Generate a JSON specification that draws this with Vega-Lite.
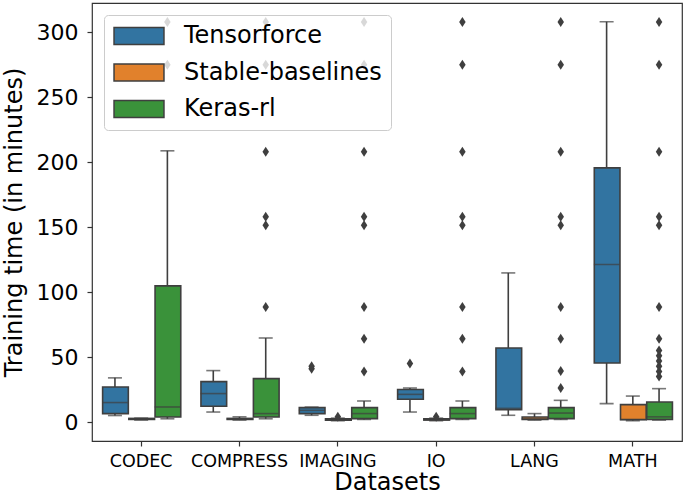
{
  "$schema": "https://vega.github.io/schema/vega-lite/v6.json",
  "width": 590,
  "height": 438,
  "autosize": "none",
  "padding": {"left": 92, "top": 3, "right": 3, "bottom": 56},
  "config": {
    "font": "DejaVu Sans",
    "view": {"stroke": "#333333", "strokeWidth": 1.2},
    "axis": {"grid": false, "domain": false, "tickColor": "#333333", "tickWidth": 1.2, "labelColor": "#000000", "titleColor": "#000000", "titleFontWeight": "normal", "titleFont": "DejaVu Sans", "labelFont": "DejaVu Sans"}
  },
  "datasets": {
    "boxes": [
      {"dataset": "CODEC", "lib": "Tensorforce", "lo": 5, "q1": 6.5, "med": 15, "q3": 27, "hi": 34},
      {"dataset": "CODEC", "lib": "Stable-baselines", "lo": 1.5, "q1": 2, "med": 2.3, "q3": 2.8, "hi": 3},
      {"dataset": "CODEC", "lib": "Keras-rl", "lo": 2.5, "q1": 3.9, "med": 11.6, "q3": 104.8, "hi": 208.8},
      {"dataset": "COMPRESS", "lib": "Tensorforce", "lo": 7.7, "q1": 12.1, "med": 21.9, "q3": 31.1, "hi": 39.6},
      {"dataset": "COMPRESS", "lib": "Stable-baselines", "lo": 1.5, "q1": 2, "med": 2.3, "q3": 2.8, "hi": 4},
      {"dataset": "COMPRESS", "lib": "Keras-rl", "lo": 2.5, "q1": 3.9, "med": 6.5, "q3": 33.4, "hi": 64.7},
      {"dataset": "IMAGING", "lib": "Tensorforce", "lo": 5.2, "q1": 6.5, "med": 9, "q3": 11.1, "hi": 11.5},
      {"dataset": "IMAGING", "lib": "Stable-baselines", "lo": 1, "q1": 1.5, "med": 2, "q3": 2.5, "hi": 3},
      {"dataset": "IMAGING", "lib": "Keras-rl", "lo": 2, "q1": 2.6, "med": 6.5, "q3": 11.1, "hi": 16.2},
      {"dataset": "IO", "lib": "Tensorforce", "lo": 7.7, "q1": 17.5, "med": 21.3, "q3": 25, "hi": 26.2},
      {"dataset": "IO", "lib": "Stable-baselines", "lo": 1, "q1": 1.5, "med": 2, "q3": 2.5, "hi": 3},
      {"dataset": "IO", "lib": "Keras-rl", "lo": 2, "q1": 2.6, "med": 6.5, "q3": 11.1, "hi": 16.2},
      {"dataset": "LANG", "lib": "Tensorforce", "lo": 5.2, "q1": 9.5, "med": 10.5, "q3": 57, "hi": 114.8},
      {"dataset": "LANG", "lib": "Stable-baselines", "lo": 1.5, "q1": 2, "med": 2.5, "q3": 3.9, "hi": 6.5},
      {"dataset": "LANG", "lib": "Keras-rl", "lo": 2, "q1": 2.6, "med": 6.9, "q3": 11.1, "hi": 16.7},
      {"dataset": "MATH", "lib": "Tensorforce", "lo": 14.2, "q1": 45.5, "med": 121.3, "q3": 195.7, "hi": 308.2},
      {"dataset": "MATH", "lib": "Stable-baselines", "lo": 1, "q1": 1.8, "med": 2, "q3": 13.4, "hi": 20},
      {"dataset": "MATH", "lib": "Keras-rl", "lo": 1.5, "q1": 2, "med": 4, "q3": 15.4, "hi": 25.7}
    ],
    "outliers": [
      {"dataset": "CODEC", "lib": "Keras-rl", "value": 275},
      {"dataset": "CODEC", "lib": "Keras-rl", "value": 308},
      {"dataset": "COMPRESS", "lib": "Keras-rl", "value": 88.6},
      {"dataset": "COMPRESS", "lib": "Keras-rl", "value": 151.5},
      {"dataset": "COMPRESS", "lib": "Keras-rl", "value": 158},
      {"dataset": "COMPRESS", "lib": "Keras-rl", "value": 208},
      {"dataset": "COMPRESS", "lib": "Keras-rl", "value": 275},
      {"dataset": "COMPRESS", "lib": "Keras-rl", "value": 308},
      {"dataset": "IMAGING", "lib": "Tensorforce", "value": 41},
      {"dataset": "IMAGING", "lib": "Tensorforce", "value": 43},
      {"dataset": "IMAGING", "lib": "Stable-baselines", "value": 4},
      {"dataset": "IMAGING", "lib": "Keras-rl", "value": 39},
      {"dataset": "IMAGING", "lib": "Keras-rl", "value": 64.2},
      {"dataset": "IMAGING", "lib": "Keras-rl", "value": 88.6},
      {"dataset": "IMAGING", "lib": "Keras-rl", "value": 151.5},
      {"dataset": "IMAGING", "lib": "Keras-rl", "value": 158},
      {"dataset": "IMAGING", "lib": "Keras-rl", "value": 208},
      {"dataset": "IMAGING", "lib": "Keras-rl", "value": 275},
      {"dataset": "IMAGING", "lib": "Keras-rl", "value": 308},
      {"dataset": "IO", "lib": "Tensorforce", "value": 45},
      {"dataset": "IO", "lib": "Stable-baselines", "value": 4},
      {"dataset": "IO", "lib": "Keras-rl", "value": 39},
      {"dataset": "IO", "lib": "Keras-rl", "value": 64.2},
      {"dataset": "IO", "lib": "Keras-rl", "value": 88.6},
      {"dataset": "IO", "lib": "Keras-rl", "value": 151.5},
      {"dataset": "IO", "lib": "Keras-rl", "value": 158},
      {"dataset": "IO", "lib": "Keras-rl", "value": 208},
      {"dataset": "IO", "lib": "Keras-rl", "value": 275},
      {"dataset": "IO", "lib": "Keras-rl", "value": 308},
      {"dataset": "LANG", "lib": "Keras-rl", "value": 26.2},
      {"dataset": "LANG", "lib": "Keras-rl", "value": 39.3},
      {"dataset": "LANG", "lib": "Keras-rl", "value": 64.2},
      {"dataset": "LANG", "lib": "Keras-rl", "value": 88.6},
      {"dataset": "LANG", "lib": "Keras-rl", "value": 151.5},
      {"dataset": "LANG", "lib": "Keras-rl", "value": 158},
      {"dataset": "LANG", "lib": "Keras-rl", "value": 208},
      {"dataset": "LANG", "lib": "Keras-rl", "value": 275},
      {"dataset": "LANG", "lib": "Keras-rl", "value": 308},
      {"dataset": "MATH", "lib": "Keras-rl", "value": 35},
      {"dataset": "MATH", "lib": "Keras-rl", "value": 39},
      {"dataset": "MATH", "lib": "Keras-rl", "value": 43},
      {"dataset": "MATH", "lib": "Keras-rl", "value": 47},
      {"dataset": "MATH", "lib": "Keras-rl", "value": 51},
      {"dataset": "MATH", "lib": "Keras-rl", "value": 55},
      {"dataset": "MATH", "lib": "Keras-rl", "value": 64.2},
      {"dataset": "MATH", "lib": "Keras-rl", "value": 88.6},
      {"dataset": "MATH", "lib": "Keras-rl", "value": 151.5},
      {"dataset": "MATH", "lib": "Keras-rl", "value": 158},
      {"dataset": "MATH", "lib": "Keras-rl", "value": 208},
      {"dataset": "MATH", "lib": "Keras-rl", "value": 275},
      {"dataset": "MATH", "lib": "Keras-rl", "value": 308}
    ]
  },
  "layer": [
    {
      "data": {"name": "boxes"},
      "mark": {"type": "rule", "color": "#3f3f3f", "strokeWidth": 1.6},
      "encoding": {
        "x": {"field": "dataset", "type": "nominal", "sort": ["CODEC", "COMPRESS", "IMAGING", "IO", "LANG", "MATH"],
              "scale": {"paddingInner": 0.2, "paddingOuter": 0.1},
              "axis": {"title": "Datasets", "labelAngle": 0, "labelFontSize": 17.5, "titleFontSize": 24, "tickSize": 5, "labelPadding": 6, "titlePadding": 1, "labelOverlap": false}},
        "xOffset": {"field": "lib", "type": "nominal", "scale": {"domain": ["Tensorforce", "Stable-baselines", "Keras-rl"], "paddingInner": 0, "paddingOuter": 0}},
        "y": {"field": "lo", "type": "quantitative",
              "scale": {"domain": [-14.6, 322.6], "nice": false, "zero": false},
              "axis": {"title": "Training time (in minutes)", "values": [0, 50, 100, 150, 200, 250, 300], "labelFontSize": 22, "titleFontSize": 24, "tickSize": 5, "labelPadding": 9, "titlePadding": 10}},
        "y2": {"field": "hi"}
      }
    },
    {
      "data": {"name": "boxes"},
      "mark": {"type": "bar", "stroke": "#3f3f3f", "strokeWidth": 1.6, "width": {"band": 0.98}},
      "encoding": {
        "x": {"field": "dataset", "type": "nominal", "sort": ["CODEC", "COMPRESS", "IMAGING", "IO", "LANG", "MATH"]},
        "xOffset": {"field": "lib", "type": "nominal"},
        "y": {"field": "q1", "type": "quantitative"},
        "y2": {"field": "q3"},
        "color": {"field": "lib", "type": "nominal",
                  "scale": {"domain": ["Tensorforce", "Stable-baselines", "Keras-rl"], "range": ["#3274a1", "#e1812c", "#3a923a"]},
                  "legend": {"title": null, "orient": "none", "legendX": 12, "legendY": 12,
                             "symbolType": "M-2.27,-0.77H2.27V0.77H-2.27Z", "symbolSize": 484,
                             "symbolStrokeColor": "#3f3f3f", "symbolStrokeWidth": 1.5, "symbolOpacity": 1,
                             "labelFontSize": 24, "labelFont": "DejaVu Sans", "labelColor": "#000000", "labelLimit": 400,
                             "padding": 9, "rowPadding": 12.5, "symbolOffset": 14, "labelOffset": 33,
                             "strokeColor": "#cccccc", "fillColor": "rgba(255,255,255,0.8)", "cornerRadius": 4}}
      }
    },
    {
      "data": {"name": "boxes"},
      "mark": {"type": "tick", "color": "#3f3f3f", "thickness": 1.6, "size": 25.5},
      "encoding": {
        "x": {"field": "dataset", "type": "nominal", "sort": ["CODEC", "COMPRESS", "IMAGING", "IO", "LANG", "MATH"]},
        "xOffset": {"field": "lib", "type": "nominal"},
        "y": {"field": "med", "type": "quantitative"}
      }
    },
    {
      "data": {"name": "boxes"},
      "mark": {"type": "tick", "color": "#3f3f3f", "thickness": 1.6, "size": 14},
      "encoding": {
        "x": {"field": "dataset", "type": "nominal", "sort": ["CODEC", "COMPRESS", "IMAGING", "IO", "LANG", "MATH"]},
        "xOffset": {"field": "lib", "type": "nominal"},
        "y": {"field": "hi", "type": "quantitative"}
      }
    },
    {
      "data": {"name": "boxes"},
      "mark": {"type": "tick", "color": "#3f3f3f", "thickness": 1.6, "size": 14},
      "encoding": {
        "x": {"field": "dataset", "type": "nominal", "sort": ["CODEC", "COMPRESS", "IMAGING", "IO", "LANG", "MATH"]},
        "xOffset": {"field": "lib", "type": "nominal"},
        "y": {"field": "lo", "type": "quantitative"}
      }
    },
    {
      "data": {"name": "outliers"},
      "mark": {"type": "point", "shape": "M0,-1L0.65,0L0,1L-0.65,0Z", "filled": true, "color": "#3f3f3f", "opacity": 1, "size": 100},
      "encoding": {
        "x": {"field": "dataset", "type": "nominal", "sort": ["CODEC", "COMPRESS", "IMAGING", "IO", "LANG", "MATH"]},
        "xOffset": {"field": "lib", "type": "nominal"},
        "y": {"field": "value", "type": "quantitative"}
      }
    }
  ]
}
